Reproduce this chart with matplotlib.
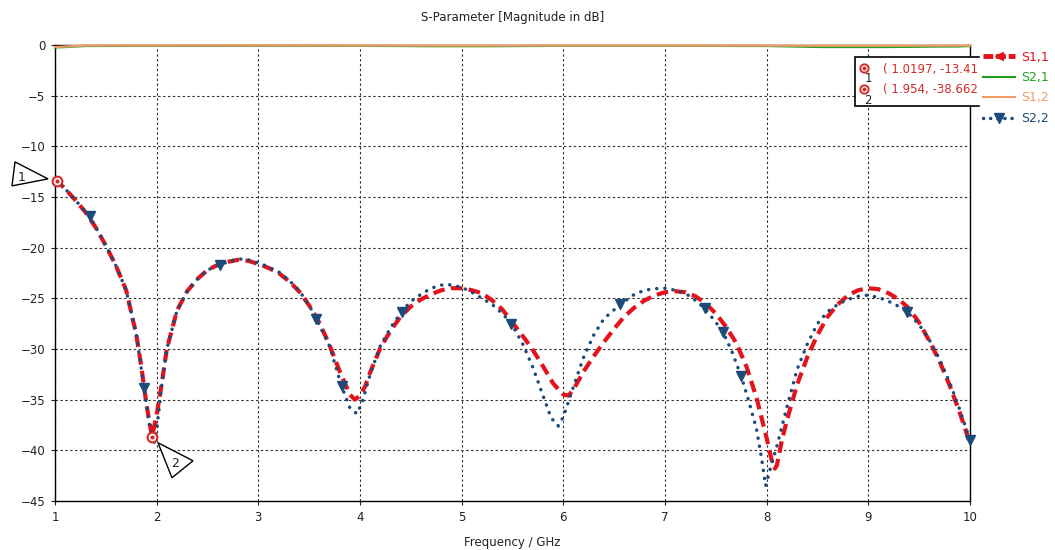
import matplotlib
matplotlib.use("Agg")
import matplotlib.pyplot as plt
from matplotlib.lines import Line2D
from matplotlib.patches import Polygon, Rectangle
from matplotlib.transforms import ScaledTranslation

# ---- data -------------------------------------------------------------
freq_s11 = [1.0, 1.0197, 1.1, 1.2, 1.3, 1.4, 1.5, 1.6, 1.7, 1.8, 1.85, 1.9, 1.954,
            2.0, 2.05, 2.1, 2.2, 2.3, 2.4, 2.5, 2.6, 2.7, 2.8, 2.9, 3.0, 3.1, 3.2,
            3.3, 3.4, 3.5, 3.6, 3.7, 3.8, 3.9, 3.95, 4.0, 4.05, 4.1, 4.2, 4.3, 4.4,
            4.5, 4.6, 4.7, 4.8, 4.9, 5.0, 5.1, 5.2, 5.3, 5.4, 5.5, 5.6, 5.7, 5.8,
            5.9, 6.0, 6.05, 6.1, 6.2, 6.3, 6.4, 6.5, 6.6, 6.7, 6.8, 6.9, 7.0, 7.1,
            7.2, 7.3, 7.4, 7.5, 7.6, 7.7, 7.8, 7.9, 8.0, 8.05, 8.08, 8.1, 8.15, 8.2,
            8.3, 8.4, 8.5, 8.6, 8.7, 8.8, 8.9, 9.0, 9.1, 9.2, 9.3, 9.4, 9.5, 9.6,
            9.7, 9.8, 9.9, 10.0]
s11 = [-13.3, -13.41, -14.2, -15.3, -16.5, -18.0, -19.8, -21.8, -24.2, -28.6, -31.8,
       -35.5, -38.662, -36.5, -33.4, -30.0, -26.2, -24.3, -23.1, -22.2, -21.7, -21.4,
       -21.2, -21.3, -21.6, -22.0, -22.5, -23.3, -24.3, -25.7, -27.4, -29.6, -32.2,
       -34.5, -35.0, -34.6, -33.7, -32.3, -29.9, -28.2, -26.8, -25.8, -25.1, -24.6,
       -24.2, -24.0, -24.0, -24.2, -24.5, -25.2, -26.1, -27.4, -28.7, -30.1, -31.7,
       -33.4, -34.5, -34.6, -34.0, -32.2, -30.7, -29.3, -28.0, -26.8, -25.9, -25.2,
       -24.7, -24.4, -24.3, -24.4, -24.8, -25.5, -26.5, -27.8, -29.4, -31.7, -34.8,
       -38.8, -41.0, -41.8, -41.5, -39.0, -37.0, -33.5, -30.8, -28.6, -26.8, -25.6,
       -24.7, -24.2, -24.0, -24.1, -24.5, -25.1, -26.0, -27.4, -29.2, -31.2, -33.6,
       -36.3, -39.3]

freq_s22 = [1.0, 1.1, 1.2, 1.34, 1.5, 1.6, 1.7, 1.8, 1.875, 1.92, 1.97, 2.0, 2.05,
            2.1, 2.2, 2.3, 2.4, 2.5, 2.62, 2.7, 2.8, 2.9, 3.0, 3.1, 3.2, 3.3, 3.4,
            3.5, 3.57, 3.7, 3.82, 3.9, 3.97, 4.02, 4.1, 4.2, 4.3, 4.41, 4.5, 4.6,
            4.7, 4.8, 4.85, 4.9, 5.0, 5.1, 5.2, 5.3, 5.4, 5.49, 5.6, 5.7, 5.8, 5.88,
            5.95, 6.0, 6.1, 6.2, 6.3, 6.4, 6.56, 6.7, 6.8, 6.9, 7.0, 7.1, 7.2, 7.3,
            7.39, 7.48, 7.57, 7.66, 7.75, 7.82, 7.9, 7.95, 7.99, 8.03, 8.1, 8.2, 8.3,
            8.4, 8.5, 8.6, 8.7, 8.8, 8.9, 8.98, 9.1, 9.2, 9.3, 9.38, 9.5, 9.6, 9.7,
            9.8, 9.9, 10.0]
s22 = [-13.3, -14.2, -15.3, -16.9, -19.8, -21.8, -24.2, -28.6, -33.8, -37.0, -39.5,
       -38.0, -33.6, -30.0, -26.2, -24.3, -23.1, -22.2, -21.7, -21.4, -21.1, -21.2,
       -21.5, -21.9, -22.4, -23.2, -24.2, -25.7, -27.0, -29.7, -33.7, -35.8, -36.4,
       -35.3, -32.5, -29.7, -27.9, -26.3, -25.3, -24.6, -24.0, -23.7, -23.6, -23.7,
       -23.9, -24.4, -25.0, -25.6, -26.5, -27.5, -29.5, -31.8, -34.6, -36.8, -37.6,
       -36.7, -33.7, -30.8, -28.6, -27.0, -25.6, -24.6, -24.2, -24.05, -24.0, -24.2,
       -24.5, -25.2, -26.0, -27.1, -28.3, -30.3, -32.7, -35.0, -37.9, -40.8, -43.5,
       -42.0, -39.6, -35.7, -32.0, -29.5, -27.5, -26.3, -25.6, -25.1, -24.8, -24.7,
       -24.9, -25.3, -25.8, -26.3, -27.6, -29.1, -31.0, -33.3, -36.0, -39.0]

# frequencies carrying the S2,2 curve symbols
s22_marker_freqs = [1.34, 1.875, 2.62, 3.57, 3.82, 4.41, 5.49, 6.56, 7.39, 7.57, 7.75, 9.38, 10.0]

freq_top = [1.0, 1.1, 1.3, 2.0, 3.0, 4.0, 4.7, 5.3, 6.0, 7.0, 8.0, 8.55, 9.2, 9.7, 9.87, 10.0]
s21 = [-0.25, -0.2, -0.1, -0.08, -0.07, -0.08, -0.12, -0.12, -0.08, -0.08, -0.1,
       -0.2, -0.2, -0.15, -0.15, -0.1]
s12 = [-0.2, -0.15, -0.05, -0.04, -0.04, -0.05, -0.06, -0.06, -0.05, -0.05, -0.06,
       -0.07, -0.07, -0.06, -0.06, -0.05]

marker_points = [(1.0197, -13.41), (1.954, -38.662)]
marker_labels = ["1", "2"]

x_ticks = [1, 2, 3, 4, 5, 6, 7, 8, 9, 10]
y_ticks = [0, -5, -10, -15, -20, -25, -30, -35, -40, -45]

# ---- style ------------------------------------------------------------
RED = "#e3121b"
NAVY = "#1c4a7a"
GREEN = "#22a022"
ORANGE = "#f29a66"
MARK_RED = "#d42a2a"

plt.rcParams["font.family"] = ["DejaVu Sans"]

fig = plt.figure(figsize=(10.55, 5.5), dpi=100)
ax = fig.add_axes([55 / 1055, 49 / 550, 915 / 1055, 456 / 550])

ax.set_xlim(1, 10)
ax.set_ylim(-45, 0)
ax.set_xticks(x_ticks)
ax.set_yticks(y_ticks)
ax.tick_params(labelsize=8.5, length=3, width=0.8, colors="#222222", pad=4)
for s in ax.spines.values():
    s.set_linewidth(1.0)
    s.set_color("black")

ax.grid(True, color="#333333", linestyle=(0, (2.2, 2.2)), linewidth=0.8)
ax.set_axisbelow(True)

ax.plot(freq_top, s21, color=GREEN, lw=1.6, zorder=3, clip_on=False)
ax.plot(freq_top, s12, color=ORANGE, lw=1.6, zorder=3.1, clip_on=False)

ax.plot(freq_s11, s11, color=RED, lw=3.0, linestyle=(0, (2.8, 1.5)), zorder=4)

s22_mark_idx = [freq_s22.index(f) for f in s22_marker_freqs]
ax.plot(freq_s22, s22, color=NAVY, lw=2.5, linestyle=(0, (0.05, 2.3)),
        dash_capstyle="round", marker="v", markersize=7.5, markevery=s22_mark_idx,
        markeredgecolor=NAVY, markerfacecolor=NAVY, zorder=5, clip_on=False)

ax.set_title("S-Parameter [Magnitude in dB]", fontsize=8.5, color="#222222", pad=17)
ax.set_xlabel("Frequency / GHz", fontsize=8.5, color="#222222", labelpad=9)

# ---- curve markers with triangular callouts ---------------------------
tri_offsets = [
    [(-42, 19), (-45, -5), (-9, 2)],
    [(6, -6), (20, -41), (41, -24)],
]
label_offsets = [(-35, 3), (23, -27)]
for (fx, fy), lab, tri, lo in zip(marker_points, marker_labels, tri_offsets, label_offsets):
    anchor = fig.dpi_scale_trans + ScaledTranslation(fx, fy, ax.transData)
    poly = Polygon([(dx / 100, dy / 100) for dx, dy in tri], closed=True,
                   facecolor="white", edgecolor="black", lw=1.0,
                   transform=anchor, zorder=7, clip_on=False)
    ax.add_patch(poly)
    ax.text(lo[0] / 100, lo[1] / 100, lab, transform=anchor, fontsize=9,
            ha="center", va="center", color="#222222", zorder=8)
    ax.plot([fx], [fy], marker="o", markersize=7, markerfacecolor="white",
            markeredgecolor=MARK_RED, markeredgewidth=1.5, zorder=9, clip_on=False)
    ax.plot([fx], [fy], marker="o", markersize=2, color=MARK_RED, zorder=10, clip_on=False)

# ---- marker readout box -----------------------------------------------
W, H = 1055, 550
box = Rectangle((855 / W, 1 - 106 / H), 135 / W, 49 / H, transform=fig.transFigure,
                facecolor="white", edgecolor="black", lw=1.2, zorder=20)
fig.add_artist(box)
rows_y = [69, 90]
for (fx, fy), lab, ry in zip(marker_points, marker_labels, rows_y):
    fig.add_artist(Line2D([864 / W], [1 - (ry - 1) / H], marker="o", markersize=6,
                          markerfacecolor="white", markeredgecolor=MARK_RED,
                          markeredgewidth=1.4, transform=fig.transFigure, zorder=21))
    fig.add_artist(Line2D([864 / W], [1 - (ry - 1) / H], marker="o", markersize=1.8,
                          color=MARK_RED, transform=fig.transFigure, zorder=22))
    fig.text(868 / W, 1 - (ry + 10) / H, lab, fontsize=8.5, color="#222222",
             ha="center", va="center", zorder=21)
    fig.text(883 / W, 1 - ry / H, f"( {fx}, {fy}", fontsize=8.5, color=MARK_RED,
             ha="left", va="center", zorder=21)

# ---- legend -----------------------------------------------------------
handles = [
    Line2D([], [], color=RED, lw=3.5, linestyle=(0, (2.0, 0.6)), marker="<",
           markersize=6, markevery=[1]),
    Line2D([], [], color=GREEN, lw=1.5),
    Line2D([], [], color=ORANGE, lw=1.5),
    Line2D([], [], color=NAVY, lw=2.5, linestyle=(0, (0.05, 2.0)), dash_capstyle="round",
           marker="v", markersize=7, markevery=[1]),
]
labels = ["S1,1", "S2,1", "S1,2", "S2,2"]
leg = fig.legend(handles, labels, loc="upper left", bbox_to_anchor=(980 / W, 1 - 48 / H),
                 frameon=True, fontsize=9, handlelength=2.6, handletextpad=0.5,
                 labelspacing=0.6, borderpad=0.2, borderaxespad=0)
leg.get_frame().set_facecolor("white")
leg.get_frame().set_edgecolor("white")
leg.get_frame().set_alpha(1.0)
leg.set_zorder(30)
for txt, col in zip(leg.get_texts(), [RED, GREEN, ORANGE, NAVY]):
    txt.set_color(col)

fig.savefig("out.png", dpi=100)
